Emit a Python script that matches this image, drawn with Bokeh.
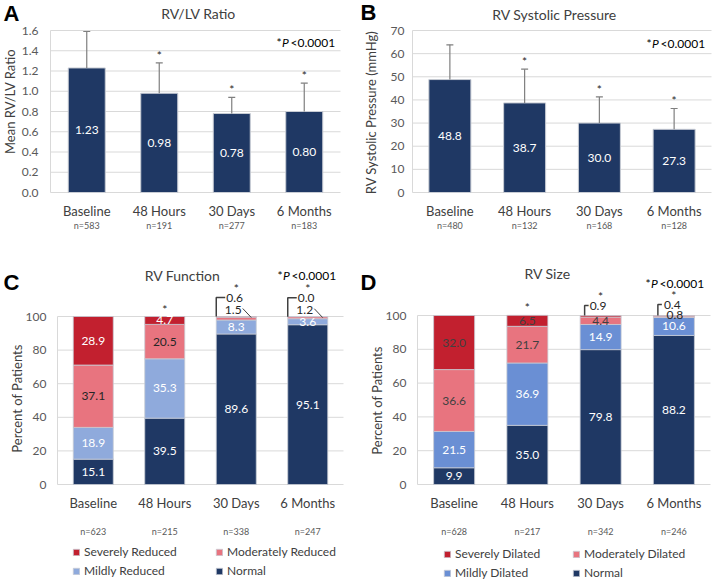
from bokeh.plotting import figure
from bokeh.models import (Range1d, FixedTicker, LinearAxis, Label, LabelSet,
                          ColumnDataSource, Legend, LegendItem, NumeralTickFormatter)
from bokeh.core.properties import value, field
from bokeh.layouts import column, row
from bokeh.embed import file_html
from bokeh.resources import INLINE

# ---------------- data ----------------
timepoints = ["Baseline", "48 Hours", "30 Days", "6 Months"]
positions = [1, 2, 3, 4]

rvlv_mean = [1.23, 0.98, 0.78, 0.80]
rvlv_sd = [0.36, 0.30, 0.16, 0.28]
rvlv_n = [583, 191, 277, 183]
rvlv_sig = [False, True, True, True]
rvlv_ticks = [0.0, 0.2, 0.4, 0.6, 0.8, 1.0, 1.2, 1.4, 1.6]

rvsp_mean = [48.8, 38.7, 30.0, 27.3]
rvsp_sd = [15.0, 14.6, 11.3, 9.0]
rvsp_n = [480, 132, 168, 128]
rvsp_sig = [False, True, True, True]
rvsp_ticks = [0, 10, 20, 30, 40, 50, 60, 70]

pct_ticks = [0, 20, 40, 60, 80, 100]

func_series = ["Normal", "Mildly Reduced", "Moderately Reduced", "Severely Reduced"]
func_normal = [15.1, 39.5, 89.6, 95.1]
func_mild = [18.9, 35.3, 8.3, 3.6]
func_moderate = [37.1, 20.5, 1.5, 1.2]
func_severe = [28.9, 4.7, 0.6, 0.0]
func_n = [623, 215, 338, 247]
func_sig = [False, True, True, True]

size_series = ["Normal", "Mildly Dilated", "Moderately Dilated", "Severely Dilated"]
size_normal = [9.9, 35.0, 79.8, 88.2]
size_mild = [21.5, 36.9, 14.9, 10.6]
size_moderate = [36.6, 21.7, 4.4, 0.8]
size_severe = [32.0, 6.5, 0.9, 0.4]
size_n = [628, 217, 342, 246]
size_sig = [False, True, True, True]

p_value_text = "<0.0001"

# ---------------- styles ----------------
FONT = "Lato"
NAVY = "#1F3864"
RED = "#C2202F"
PINK = "#E8747F"
LIGHT_BLUE = "#8FAADC"
MID_BLUE = "#6A8FD4"
GRID = "#D9D9D9"
EDGE = "#C8CCD4"
ERR = "#7F7F7F"
TICK_TXT = "#595959"
CAT_TXT = "#404040"
DARK = "#262626"


class Geo:
    """Figure box and plot-area box, both in page pixels; x domain 0.5..4.5."""
    def __init__(self, fx, fy, w, h, pl, pt, pw, ph, y_top):
        self.fx, self.fy, self.w, self.h = fx, fy, w, h
        self.pl, self.pt, self.pw, self.ph = pl, pt, pw, ph
        self.ppx = pw / 4.0
        self.ppy = ph / y_top
        self.xr = (self.x(fx), self.x(fx + w))
        self.yr = (self.y(fy + h), self.y(fy))

    def x(self, px):
        return 0.5 + (px - self.pl) / self.ppx

    def y(self, py):
        return (self.pt + self.ph - py) / self.ppy


def make_fig(g, yticks, fmt, n_list, y_standoff, cat_standoff, n_standoff):
    p = figure(width=g.w, height=g.h, x_range=Range1d(*g.xr), y_range=Range1d(*g.yr),
               output_backend="svg", toolbar_location=None, min_border=0,
               min_border_left=0, min_border_right=0, min_border_top=0, min_border_bottom=0)
    p.title.visible = False
    p.outline_line_color = None
    p.background_fill_color = "white"
    p.border_fill_color = "white"
    p.xgrid.visible = False
    p.ygrid.visible = False
    # horizontal gridlines at the y ticks across the plot area
    p.segment(x0=[0.5] * len(yticks), x1=[4.5] * len(yticks), y0=yticks, y1=yticks,
              line_color=GRID, line_width=1, level="underlay")

    ya = p.yaxis[0]
    ya.fixed_location = 0.5
    ya.ticker = FixedTicker(ticks=yticks)
    ya.formatter = NumeralTickFormatter(format=fmt)
    ya.bounds = (yticks[0], yticks[-1])
    ya.axis_line_color = GRID
    ya.major_tick_line_color = None
    ya.minor_tick_line_color = None
    ya.major_tick_out = 0
    ya.major_tick_in = 0
    ya.major_label_text_font = FONT
    ya.major_label_text_font_size = "12px"
    ya.major_label_text_color = TICK_TXT
    ya.major_label_standoff = y_standoff

    xa = p.xaxis[0]
    xa.fixed_location = 0
    xa.ticker = FixedTicker(ticks=positions)
    xa.major_label_overrides = {k: t for k, t in zip(positions, timepoints)}
    xa.axis_line_color = None
    xa.major_tick_line_color = None
    xa.minor_tick_line_color = None
    xa.major_tick_out = 0
    xa.major_tick_in = 0
    xa.major_label_text_font = FONT
    xa.major_label_text_font_size = "13px"
    xa.major_label_text_color = CAT_TXT
    xa.major_label_standoff = cat_standoff

    na = LinearAxis(ticker=FixedTicker(ticks=positions), fixed_location=0,
                    major_label_overrides={k: f"n={n}" for k, n in zip(positions, n_list)})
    na.axis_line_color = None
    na.major_tick_line_color = None
    na.minor_tick_line_color = None
    na.major_tick_out = 0
    na.major_tick_in = 0
    na.major_label_text_font = FONT
    na.major_label_text_font_size = "9px"
    na.major_label_text_color = TICK_TXT
    na.major_label_standoff = n_standoff
    p.add_layout(na, "below")
    return p


def txt(p, x, y, text, size="12px", color=DARK, align="center", baseline="middle",
        font=FONT, style="normal", x_offset=0, y_offset=0, angle=0):
    p.add_layout(Label(x=x, y=y, text=text, text_font=font, text_font_size=size,
                       text_color=color, text_align=align, text_baseline=baseline,
                       text_font_style=style, x_offset=x_offset, y_offset=y_offset,
                       angle=angle, angle_units="deg"))


def decorate(p, g, letter, letter_xy, title, title_xy, ylabel, ylabel_xy, pval_xy):
    txt(p, g.x(letter_xy[0]), g.y(letter_xy[1]), letter, size="22px", color="black",
        align="left", font="Liberation Sans", style="bold")
    txt(p, g.x(title_xy[0]), g.y(title_xy[1]), title, size="14px", color=CAT_TXT)
    txt(p, g.x(ylabel_xy[0]), g.y(ylabel_xy[1]), ylabel, size="13px", color=CAT_TXT, angle=90)
    px, py = g.x(pval_xy[0]), g.y(pval_xy[1])
    txt(p, px, py, "*", size="12px", color="black", align="left")
    txt(p, px, py, "P", size="12px", color="black", align="left", style="italic", x_offset=5.5)
    txt(p, px, py, p_value_text, size="12px", color="black", align="left", x_offset=14)


def mean_panel(g, means, sds, sig, ticks, fmt, n_list, bar_px, label_fmt, y_standoff):
    p = make_fig(g, ticks, fmt, n_list, y_standoff, 10, 27)
    bw = bar_px / g.ppx
    p.vbar(x=positions, top=means, width=bw, fill_color=NAVY, line_color=EDGE, line_width=1)
    tops = [m + s for m, s in zip(means, sds)]
    cap = 3.5 / g.ppx
    p.segment(x0=positions, y0=means, x1=positions, y1=tops, line_color=ERR, line_width=1.2)
    p.segment(x0=[x - cap for x in positions], y0=tops, x1=[x + cap for x in positions], y1=tops,
              line_color=ERR, line_width=1.2)
    src = ColumnDataSource(dict(x=positions, y=[m / 2 for m in means],
                                t=[label_fmt.format(m) for m in means]))
    p.add_layout(LabelSet(x="x", y="y", text="t", source=src, text_font=value(FONT),
                          text_font_size=value("12px"), text_color="white",
                          text_align="center", text_baseline="middle"))
    for x, t, s in zip(positions, tops, sig):
        if s:
            txt(p, x, t, "*", size="12px", color=DARK, baseline="bottom")
    return p


def stacked_panel(g, normal, mild, moderate, severe, names, colors, txt_colors, n_list, sig,
                  star_rise, bar_px, callouts, legend_left_px, legend_label_w, legend_vy):
    p = make_fig(g, pct_ticks, "0", n_list, 11, 10, 41)
    bw = bar_px / g.ppx
    src = ColumnDataSource(dict(x=positions, normal=normal, mild=mild, moderate=moderate,
                                severe=severe))
    keys = ["normal", "mild", "moderate", "severe"]
    rs = p.vbar_stack(keys, x="x", width=bw, fill_color=colors, line_color=EDGE,
                      line_width=0.8, source=src)
    series = [normal, mild, moderate, severe]
    lx, ly, lt, lc = [], [], [], []
    totals = [0.0] * 4
    for si, vals in enumerate(series):
        for i, v in enumerate(vals):
            if v >= 3:
                lx.append(positions[i])
                ly.append(totals[i] + v / 2)
                lt.append(f"{v:.1f}")
                lc.append(txt_colors[si])
            totals[i] += v
    lsrc = ColumnDataSource(dict(x=lx, y=ly, t=lt, c=lc))
    p.add_layout(LabelSet(x="x", y="y", text="t", text_color=field("c"), source=lsrc,
                          text_font=value(FONT), text_font_size=value("12px"),
                          text_align="center", text_baseline="middle"))
    # callouts for thin segments
    for (i, si, kind, prm) in callouts:
        xc = positions[i]
        base = totals[i]
        label = f"{series[si][i]:.1f}"
        if kind == "bracket":
            bdx, rise, hook, tdx = prm
            xb = xc + bdx / g.ppx
            yt = base + rise / g.ppy
            p.line(x=[xb, xb, xb + hook / g.ppx], y=[base, yt, yt], line_color="#404040",
                   line_width=1.5)
            txt(p, xc + tdx / g.ppx, yt, label, align="left")
        elif kind == "leader":
            tdx, trise, sx, sy, ex, ey = prm
            txt(p, xc + tdx / g.ppx, base + trise / g.ppy, label)
            p.line(x=[xc + sx / g.ppx, xc + ex / g.ppx], y=[base + sy / g.ppy, base + ey / g.ppy],
                   line_color="#404040", line_width=1)
        else:
            tdx, trise = prm
            txt(p, xc + tdx / g.ppx, base + trise / g.ppy, label)
    for i, (s, r) in enumerate(zip(sig, star_rise)):
        if s:
            txt(p, positions[i], totals[i], "*", color=DARK, baseline="bottom", y_offset=r)
    items = [LegendItem(label=names[k], renderers=[rs[k]]) for k in (3, 2, 1, 0)]
    leg = Legend(items=items, orientation="horizontal", ncols=2,
                 location=(legend_left_px - g.fx, legend_vy),
                 padding=0, margin=0, spacing=0, glyph_width=8, glyph_height=8,
                 label_standoff=4, label_width=legend_label_w, label_height=19,
                 label_text_font=FONT, label_text_font_size="12px",
                 label_text_color=CAT_TXT, background_fill_alpha=0,
                 border_line_color=None)
    p.add_layout(leg)
    return p


# ---------------- panel A ----------------
gA = Geo(0, 0, 357, 262, 50, 30, 290, 162, 1.6)
pA = mean_panel(gA, rvlv_mean, rvlv_sd, rvlv_sig, rvlv_ticks, "0.0", rvlv_n, 37, "{:.2f}", 12)
decorate(pA, gA, "A", (3, 13), "RV/LV Ratio", (198, 13), "Mean RV/LV Ratio", (9, 101), (276, 42))

# ---------------- panel B ----------------
gB = Geo(357, 0, 357, 262, 412, 30, 299, 162, 70)
pB = mean_panel(gB, rvsp_mean, rvsp_sd, rvsp_sig, rvsp_ticks, "0", rvsp_n, 42, "{:.1f}", 8)
decorate(pB, gB, "B", (360, 12), "RV Systolic Pressure", (554, 14),
         "RV Systolic Pressure (mmHg)", (370, 112), (646, 43))

# ---------------- panel C ----------------
gC = Geo(0, 262, 357, 318, 57, 316, 286, 168, 100)
callC = [
    (2, 3, "bracket", (-20, 19, 9, -10)),
    (3, 3, "bracket", (-20, 19, 9, -10)),
    (2, 2, "leader", (-3, 6.5, 6.5, 8, 15, -1)),
    (3, 2, "leader", (-3, 6.5, 6.5, 8, 15, -1)),
]
pC = stacked_panel(gC, func_normal, func_mild, func_moderate, func_severe, func_series,
                   [NAVY, LIGHT_BLUE, PINK, RED], ["white", "white", DARK, "white"],
                   func_n, func_sig, [0, 0, 21, 21], 40, callC, 72, 131, 0)
decorate(pC, gC, "C", (3, 282), "RV Function", (182, 275), "Percent of Patients", (16, 398),
         (277, 275))

# ---------------- panel D ----------------
gD = Geo(357, 262, 357, 318, 417, 315, 293, 169, 100)
callD = [
    (2, 3, "bracket", (-16, 10, 4, -11)),
    (3, 3, "bracket", (-16, 11, 4, -10)),
    (3, 2, "plain", (1, 1)),
]
pD = stacked_panel(gD, size_normal, size_mild, size_moderate, size_severe, size_series,
                   [NAVY, MID_BLUE, PINK, RED], ["white", "white", "#404040", "#404040"],
                   size_n, size_sig, [0, 0, 12, 13], 41, callD, 443, 117, -2)
decorate(pD, gD, "D", (360, 282), "RV Size", (547, 273), "Percent of Patients", (376, 400),
         (645, 283))

layout = column(row(pA, pB), row(pC, pD))
open("out.html", "w").write(file_html(layout, INLINE))
